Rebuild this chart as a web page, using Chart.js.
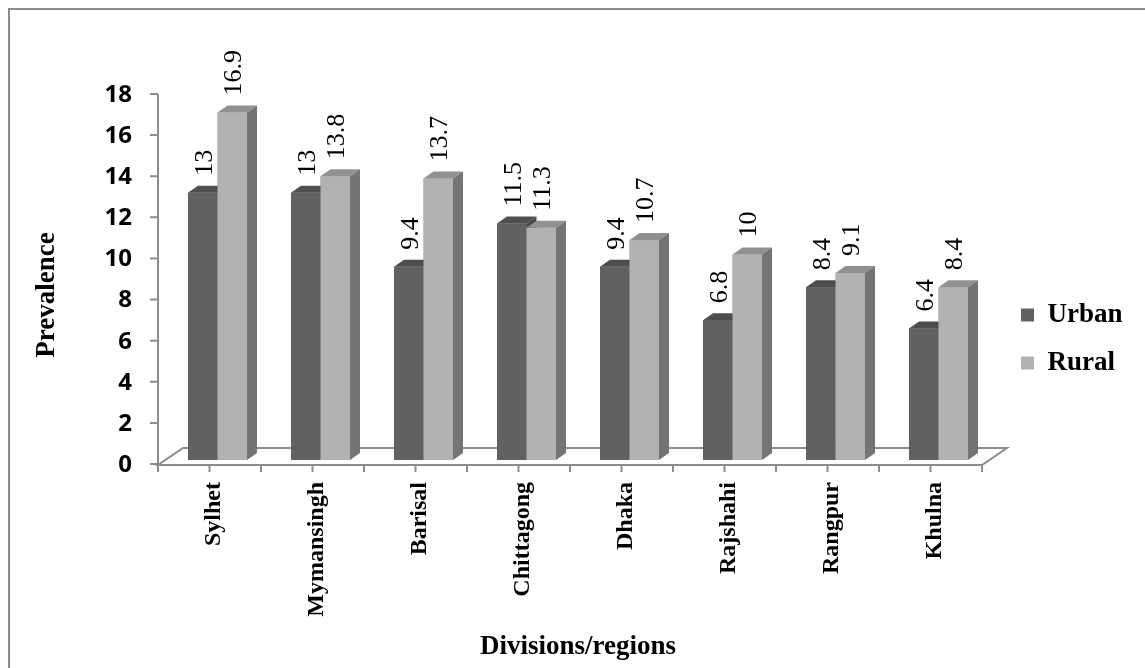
<!DOCTYPE html>
<html><head><meta charset="utf-8">
<script src="https://cdn.jsdelivr.net/npm/chart.js@4.4.1/dist/chart.umd.min.js"></script>
<style>html,body{margin:0;padding:0;background:#fff;}#wrap{position:relative;width:1145px;height:668px;}</style>
</head><body><div id="wrap"><canvas id="c"></canvas></div>
<script>
// ---- data ----
const categories = ['Sylhet','Mymansingh','Barisal','Chittagong','Dhaka','Rajshahi','Rangpur','Khulna'];
const urban = [13, 13, 9.4, 11.5, 9.4, 6.8, 8.4, 6.4];
const rural = [16.9, 13.8, 13.7, 11.3, 10.7, 10, 9.1, 8.4];
const seriesNames = ['Urban', 'Rural'];
const yMin = 0, yMax = 18, yStep = 2;
const xTitle = 'Divisions/regions';
const yTitle = 'Prevalence';

// ---- style ----
const SERIF = "'Liberation Serif', 'Times New Roman', serif";
const SANS = "'Open Sans', 'Liberation Sans', sans-serif";
const axisColor = '#8c8c8c';
const faceColors = [
  {front:'#616161', top:'#4e4e4e', side:'#474747'},
  {front:'#b2b2b2', top:'#919191', side:'#747474'}
];
const DEPTH = {dx:10, dy:-7};
const FRONT = {dx:-8, dy:5};
const BACK = {dx:17, dy:-12};

const threeD = {
  id: 'threeD',
  beforeDraw(chart) {
    const ctx = chart.ctx;
    ctx.save();
    ctx.fillStyle = '#fff';
    ctx.fillRect(0, 0, chart.width, chart.height);
    ctx.strokeStyle = '#8a8a8a';
    ctx.lineWidth = 2;
    ctx.strokeRect(9, 9, chart.width + 20, chart.height + 20);
    ctx.restore();
  },
  beforeDatasetsDraw(chart) {
    const {ctx, chartArea: a, scales: {x, y}} = chart;
    const y0 = y.getPixelForValue(yMin);
    const fl = a.left + FRONT.dx, fr = a.right + FRONT.dx, fy = y0 + FRONT.dy;
    const bl = a.left + BACK.dx, br = a.right + BACK.dx, by = y0 + BACK.dy;
    ctx.save();
    ctx.strokeStyle = axisColor;
    ctx.lineWidth = 2;
    ctx.beginPath();
    ctx.moveTo(fl, fy); ctx.lineTo(fr, fy); ctx.lineTo(br, by); ctx.lineTo(bl, by); ctx.closePath();
    for (let k = 0; k <= categories.length * 2; k++) {
      const px = x.getPixelForValue(k / 2 - 0.5) + FRONT.dx;
      ctx.moveTo(px, fy); ctx.lineTo(px, fy + 7);
    }
    const ax = a.left + FRONT.dx;
    ctx.moveTo(ax, y.getPixelForValue(yMax) + 4);
    ctx.lineTo(ax, fy);
    for (let v = yMin; v <= yMax; v += yStep) {
      const py = y.getPixelForValue(v) + 4;
      ctx.moveTo(ax - 8, py); ctx.lineTo(ax, py);
    }
    ctx.stroke();
    ctx.restore();
  },
  afterDatasetsDraw(chart) {
    const ctx = chart.ctx;
    const metas = [chart.getDatasetMeta(0), chart.getDatasetMeta(1)];
    const values = [urban, rural];
    ctx.save();
    for (let i = 0; i < categories.length; i++) {
      metas.forEach((meta, d) => {
        const el = meta.data[i];
        const c = faceColors[d];
        const l = el.x - el.width / 2, r = el.x + el.width / 2, t = el.y, b = el.base;
        ctx.fillStyle = c.front;
        ctx.fillRect(l, t, r - l, b - t);
        ctx.fillStyle = c.top;
        ctx.beginPath();
        ctx.moveTo(l, t); ctx.lineTo(l + DEPTH.dx, t + DEPTH.dy); ctx.lineTo(r + DEPTH.dx, t + DEPTH.dy); ctx.lineTo(r, t);
        ctx.closePath(); ctx.fill();
        ctx.fillStyle = c.side;
        ctx.beginPath();
        ctx.moveTo(r, t); ctx.lineTo(r + DEPTH.dx, t + DEPTH.dy); ctx.lineTo(r + DEPTH.dx, b + DEPTH.dy); ctx.lineTo(r, b);
        ctx.closePath(); ctx.fill();
      });
    }
    ctx.fillStyle = '#000';
    ctx.font = '26px ' + SERIF;
    ctx.textAlign = 'left';
    ctx.textBaseline = 'middle';
    metas.forEach((meta, d) => {
      meta.data.forEach((el, i) => {
        ctx.save();
        ctx.translate(el.x + 2, el.y - 17);
        ctx.rotate(-Math.PI / 2);
        ctx.fillText(String(values[d][i]), 0, 0);
        ctx.restore();
      });
    });
    ctx.restore();
  },
  afterDraw(chart) {
    const {ctx, chartArea: a} = chart;
    ctx.save();
    ctx.fillStyle = '#000';
    ctx.font = 'bold 27px ' + SERIF;
    ctx.textAlign = 'center';
    ctx.textBaseline = 'middle';
    ctx.translate(47, (a.top + a.bottom) / 2 + 20);
    ctx.rotate(-Math.PI / 2);
    ctx.fillText(yTitle, 0, 0);
    ctx.restore();
  }
};

new Chart(document.getElementById('c'), {
  type: 'bar',
  data: {
    labels: categories,
    datasets: [
      {label: seriesNames[0], data: urban, backgroundColor: faceColors[0].front, borderWidth: 0, xAxisID: 'x', yAxisID: 'y'},
      {label: seriesNames[1], data: rural, backgroundColor: faceColors[1].front, borderWidth: 0, xAxisID: 'x', yAxisID: 'y'}
    ]
  },
  plugins: [threeD],
  options: {
    responsive: true,
    maintainAspectRatio: false,
    animation: false,
    datasets: {bar: {categoryPercentage: 0.573, barPercentage: 1.0}},
    layout: {padding: {left: 20, right: 20, top: 14, bottom: 4}},
    plugins: {
      legend: {
        position: 'right',
        maxWidth: 125,
        labels: {boxWidth: 13, boxHeight: 13, padding: 21, color: '#000',
          font: {family: SERIF, size: 27, weight: 'bold'}}
      },
      tooltip: {enabled: false}
    },
    scales: {
      x: {
        type: 'category', offset: true,
        grid: {display: false, drawTicks: false},
        border: {display: false},
        ticks: {color: '#000', font: {family: SERIF, size: 24, weight: 'bold'},
          minRotation: 90, maxRotation: 90, padding: 22, labelOffset: -4, autoSkip: false},
        title: {display: true, text: xTitle, color: '#000',
          font: {family: SERIF, size: 27, weight: 'bold'}, padding: {top: 0, bottom: 1}},
        afterFit(s) { s.height = 204; }
      },
      xTop: {
        type: 'linear', axis: 'x', position: 'top', display: true,
        grid: {display: false, drawTicks: false}, border: {display: false},
        ticks: {display: false},
        afterFit(s) { s.height = 76; }
      },
      y: {
        type: 'linear', min: yMin, max: yMax,
        grid: {display: false, drawTicks: false},
        border: {display: false},
        ticks: {stepSize: yStep, color: '#000', font: {family: SANS, size: 24, weight: 'bold'},
          padding: 34, labelOffset: 5},
        afterFit(s) { s.width = 146; }
      },
      yR: {
        type: 'linear', axis: 'y', position: 'right', display: true,
        grid: {display: false, drawTicks: false}, border: {display: false},
        ticks: {display: false},
        afterFit(s) { s.width = 10; }
      }
    }
  }
});
</script>
</body></html>
